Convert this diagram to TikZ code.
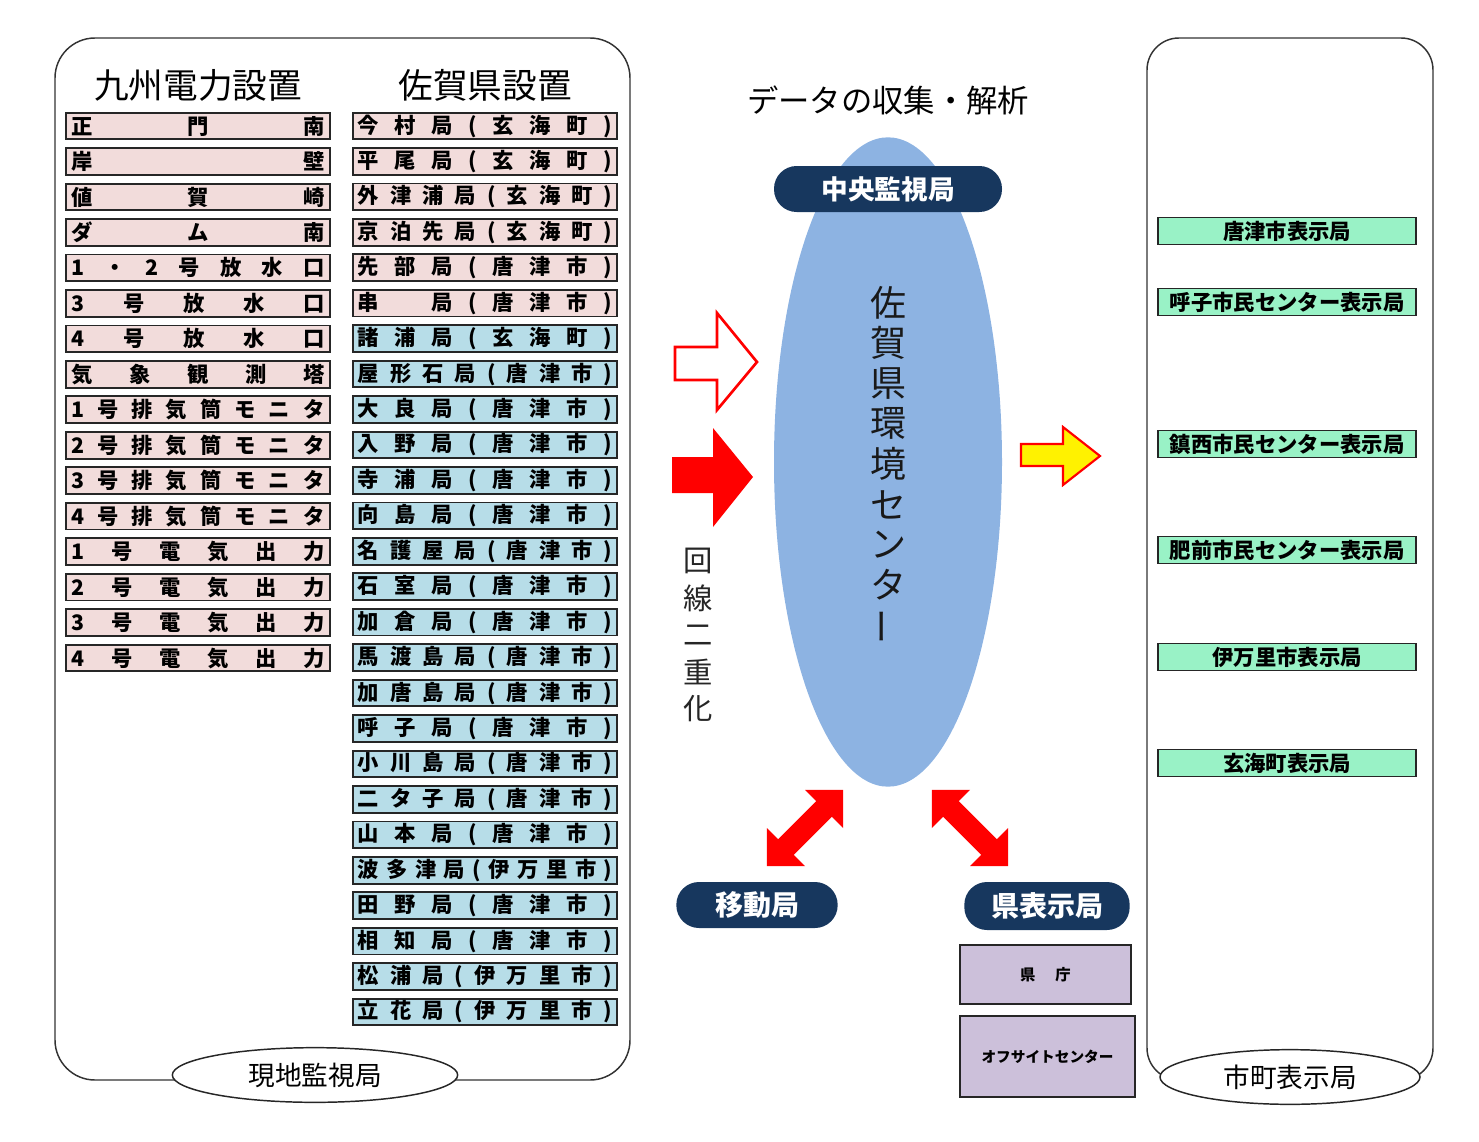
\documentclass[tikz,border=0pt]{standalone}
\usepackage{fontspec}
\usepackage{graphicx}
\setmainfont{Noto Sans CJK JP}
\usetikzlibrary{shapes.geometric}
\definecolor{pinkc}{HTML}{F2DCDB}
\definecolor{bluec}{HTML}{B7DDE8}
\definecolor{navy}{HTML}{17375E}
\definecolor{ellc}{HTML}{8DB3E2}
\definecolor{greenc}{HTML}{99F2C6}
\definecolor{lavc}{HTML}{CCC0DA}
\definecolor{framec}{HTML}{333333}
\begin{document}
\begin{tikzpicture}[x=0.75pt,y=-0.75pt,
  cell/.style={draw=black!85, line width=1.4pt, minimum width=198pt, minimum height=20pt, inner sep=0pt, font=\bfseries\fontsize{16}{16}\selectfont},
  head/.style={font=\fontsize{26}{26}\selectfont},
  pill/.style={fill=navy, text=white, rounded corners=17pt, inner sep=0pt, font=\bfseries\fontsize{20}{20}\selectfont},
  oval/.style={ellipse, draw=black!85, line width=1.1pt, fill=white, inner sep=0pt, font=\fontsize{20}{20}\selectfont},
  gbox/.style={draw=black!85, fill=greenc, line width=1.2pt, minimum width=193.5pt, minimum height=20pt, inner sep=0pt, font=\bfseries\fontsize{16}{16}\selectfont},
  lbox/.style={draw=black!85, fill=lavc, line width=1.2pt, inner sep=0pt},
  vt/.style={font=\fontsize{27}{27}\selectfont, text=black!90, inner sep=0pt},
  vt2/.style={font=\fontsize{22}{22}\selectfont, text=black!85, inner sep=0pt},
  frame/.style={draw=framec, line width=1.1pt}
]
\useasboundingbox (0,0) rectangle (1479,1142);

% frames
\draw[frame, rounded corners=30pt] (55,38) rectangle (630,1080);
\draw[frame, rounded corners=24pt] (1147,38) rectangle (1433,1080);

% headers
\node[head] (hq) at (198,85) {九州電力設置};
\node[head] (hs) at (485,85) {佐賀県設置};

% left column
\foreach \t [count=\i from 0] in {
  {正 門 南},{岸 壁},{値 賀 崎},{ダ ム 南},{1 ・ 2 号 放 水 口},{3 号 放 水 口},{4 号 放 水 口},{気 象 観 測 塔},
  {1 号 排 気 筒 モ ニ タ},{2 号 排 気 筒 モ ニ タ},{3 号 排 気 筒 モ ニ タ},{4 号 排 気 筒 モ ニ タ},
  {1 号 電 気 出 力},{2 号 電 気 出 力},{3 号 電 気 出 力},{4 号 電 気 出 力}}
  \node[cell, fill=pinkc] (L\i) at (198,{126+35.47*\i}) {\makebox[190pt][s]{\t}};

% right column
\foreach \t [count=\i from 0] in {
  {今 村 局 ( 玄 海 町 )},{平 尾 局 ( 玄 海 町 )},{外 津 浦 局 ( 玄 海 町 )},{京 泊 先 局 ( 玄 海 町 )},
  {先 部 局 ( 唐 津 市 )},{串 \hphantom{局} 局 ( 唐 津 市 )},{諸 浦 局 ( 玄 海 町 )},{屋 形 石 局 ( 唐 津 市 )},
  {大 良 局 ( 唐 津 市 )},{入 野 局 ( 唐 津 市 )},{寺 浦 局 ( 唐 津 市 )},{向 島 局 ( 唐 津 市 )},
  {名 護 屋 局 ( 唐 津 市 )},{石 室 局 ( 唐 津 市 )},{加 倉 局 ( 唐 津 市 )},{馬 渡 島 局 ( 唐 津 市 )},
  {加 唐 島 局 ( 唐 津 市 )},{呼 子 局 ( 唐 津 市 )},{小 川 島 局 ( 唐 津 市 )},{二 タ 子 局 ( 唐 津 市 )},
  {山 本 局 ( 唐 津 市 )},{波 多 津 局 ( 伊 万 里 市 )},{田 野 局 ( 唐 津 市 )},{相 知 局 ( 唐 津 市 )},
  {松 浦 局 ( 伊 万 里 市 )},{立 花 局 ( 伊 万 里 市 )}}
  {\ifnum\i<6 \def\fc{pinkc}\else\def\fc{bluec}\fi
   \node[cell, fill=\fc] (R\i) at (485,{126+35.44*\i}) {\makebox[191pt][s]{\t}};}

% bottom oval of left frame
\node[oval, minimum width=214pt, minimum height=41pt] (genchi) at (315,1075) {現地監視局};

% centre
\node[font=\fontsize{23.5}{23.5}\selectfont] (data) at (888,100) {データの収集・解析};
\node[ellipse, fill=ellc, minimum width=171pt, minimum height=487pt, inner sep=0pt] (center) at (888,462) {};
\node[pill, minimum width=171pt, minimum height=34.5pt] (chuo) at (888,189) {中央監視局};
\foreach \c [count=\i from 0] in {佐,賀,県,環,境,セ,ン,タ}
  \node[vt] (v\i) at (888,{303+40.3*\i}) {\c};
\node[vt, rotate=90] (v8) at (888,626) {ー};

% 回線二重化
\foreach \c [count=\i from 0] in {回,線,二,重,化}
  \node[vt2] (k\i) at (698,{561+37*\i}) {\c};

% arrows in
\draw[red, line width=2pt, fill=white, line join=miter] (675,347) -- (717,347) -- (717,313) -- (757,362) -- (717,410) -- (717,380) -- (675,380) -- cycle;
\fill[red] (672,457) -- (713,457) -- (713,428) -- (753,477) -- (713,527) -- (713,493) -- (672,493) -- cycle;
% arrow out
\draw[red, line width=1.6pt, fill=yellow] (1021,444) -- (1063,444) -- (1063,427) -- (1100,456) -- (1063,485) -- (1063,466) -- (1021,466) -- cycle;

% double arrows
\begin{scope}[shift={(805,828)}, rotate=45]
  \fill[red] (54,0) -- (27,27) -- (27,11) -- (-27,11) -- (-27,27) -- (-54,0) -- (-27,-27) -- (-27,-11) -- (27,-11) -- (27,-27) -- cycle;
\end{scope}
\begin{scope}[shift={(970,828)}, rotate=-45]
  \fill[red] (54,0) -- (27,27) -- (27,11) -- (-27,11) -- (-27,27) -- (-54,0) -- (-27,-27) -- (-27,-11) -- (27,-11) -- (27,-27) -- cycle;
\end{scope}

\node[pill, minimum width=121pt, minimum height=34.5pt, font=\bfseries\fontsize{21}{21}\selectfont] (ido) at (757,905) {移動局};
\node[pill, minimum width=124pt, minimum height=36pt, font=\bfseries\fontsize{21}{21}\selectfont] (ken) at (1047,906) {県表示局};

\node[lbox, minimum width=128pt, minimum height=44pt, font=\bfseries\fontsize{11.5}{11.5}\selectfont] (kencho) at (1045.5,974.5) {県\hspace{1.3em}庁};
\node[lbox, minimum width=131pt, minimum height=61pt, font=\bfseries\fontsize{11}{11}\selectfont] (offsite) at (1047.5,1056.5) {オフサイトセンター};

% right column
\foreach \t/\y [count=\i from 0] in {唐津市表示局/231, 呼子市民センター表示局/302, 鎮西市民センター表示局/444, 肥前市民センター表示局/550, 伊万里市表示局/657, 玄海町表示局/763}
  \node[gbox] (G\i) at (1287,\y) {\t};

\node[oval, minimum width=195pt, minimum height=41pt] (shicho) at (1290,1077) {市町表示局};
\end{tikzpicture}
\end{document}
